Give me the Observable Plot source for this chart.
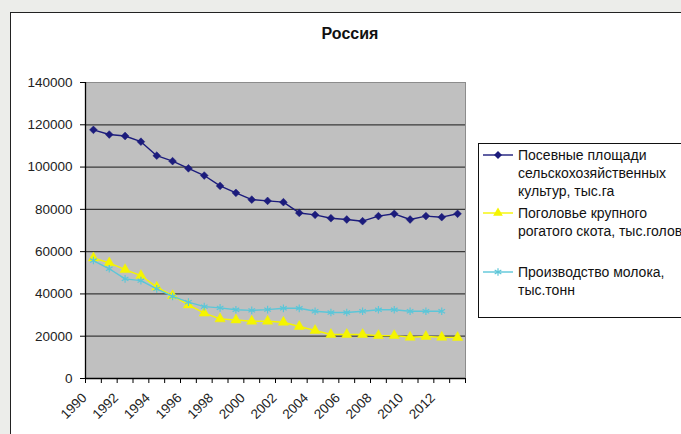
<!DOCTYPE html>
<html><head><meta charset="utf-8">
<script src="https://cdn.jsdelivr.net/npm/d3@7"></script>
<script src="https://cdn.jsdelivr.net/npm/@observablehq/plot@0.6"></script>
<style>
body{margin:0;background:#ecedea;font-family:"Liberation Sans",Arial,sans-serif;}
#wrap{position:relative;width:681px;height:434px;overflow:hidden;}
#card{position:absolute;left:10px;top:12px;width:700px;height:450px;background:#fff;border:1px solid #222;box-sizing:border-box;}
#chart{position:absolute;left:0;top:0;}
#title{position:absolute;left:250px;width:200px;top:25px;text-align:center;font-weight:bold;font-size:16px;color:#111;}
#legend{position:absolute;left:478px;top:143px;width:240px;height:175px;border:1px solid #111;box-sizing:border-box;background:#fff;}
.entry{position:absolute;left:4px;display:flex;align-items:flex-start;font-size:14px;line-height:18px;color:#111;white-space:nowrap;}
.entry svg{flex:none;margin-right:5px;}
</style></head><body>
<div id="wrap"><div id="card"></div><div id="chart"></div><div id="title">Россия</div><div id="legend"></div></div>
<script>
const years = [1990,1991,1992,1993,1994,1995,1996,1997,1998,1999,2000,2001,2002,2003,2004,2005,2006,2007,2008,2009,2010,2011,2012,2013];
const sownArea = [117600,115400,114700,112000,105400,102800,99400,96000,91100,87800,84600,84000,83400,78300,77400,75800,75200,74400,76800,77900,75200,76800,76300,77900];
const cattle = [57000,54700,51500,48700,43200,39200,34800,30900,28200,27700,27100,27100,26600,24600,22700,20800,20800,20800,20300,20300,19500,19900,19500,19400];
const milk = [55800,51900,47100,46300,42400,38800,36100,34000,33400,32500,32200,32600,33200,33200,31800,31200,31200,31800,32500,32500,31800,31800,31800];
const yTicks = [0,20000,40000,60000,80000,100000,120000,140000];
const labelYears = [1990,1992,1994,1996,1998,2000,2002,2004,2006,2008,2010,2012];
const seriesNames = ["Посевные площади\nсельскохозяйственных\nкультур, тыс.га","Поголовье крупного\nрогатого скота, тыс.голов","Производство молока,\nтыс.тонн"];
const colors = ["#1c1c7c","#f5f500","#5cc6d8"];
const symbols = ["diamond2","triangle","asterisk"];

const table = (vals) => vals.map((v,i) => ({year: years[i], v}));
const boundaries = years.map(y => y - 0.5).concat([years[years.length-1] + 0.5]);
const xDomain = [boundaries[0], boundaries[boundaries.length-1]];

const lineMarks = [sownArea, cattle, milk].flatMap((vals, k) => [
  Plot.line(table(vals), {x:"year", y:"v", stroke: colors[k], strokeWidth: 1.4}),
  Plot.dot(table(vals), k === 2
    ? {x:"year", y:"v", symbol: symbols[k], r: 3.6, stroke: colors[k], strokeWidth: 1.2, fill: "none"}
    : {x:"year", y:"v", symbol: symbols[k], r: k === 0 ? 3.5 : 3.8, fill: colors[k], stroke: colors[k], strokeWidth: 0.5})
]);

const chart = Plot.plot({
  width: 681, height: 434,
  marginLeft: 85, marginRight: 216, marginTop: 82, marginBottom: 56,
  style: {fontFamily: "'Liberation Sans', Arial, sans-serif", fontSize: "13.5px", background: "transparent", color: "#222", overflow: "visible"},
  x: {type: "linear", domain: xDomain, axis: null},
  y: {domain: [yTicks[0], yTicks[yTicks.length-1]], axis: null},
  marks: [
    Plot.frame({fill: "#c0c0c0", stroke: "#8c8c8c"}),
    Plot.ruleY(yTicks.slice(1, -1), {stroke: "#3a3a3a", strokeWidth: 1.3}),
    Plot.ruleX([xDomain[0]], {stroke: "#000", strokeWidth: 1.3}),
    Plot.ruleY([yTicks[0]], {stroke: "#000", strokeWidth: 1.3}),
    Plot.axisY({ticks: yTicks, tickSize: 5, tickPadding: 8, tickFormat: d => String(d), label: null, stroke: "#000"}),
    Plot.axisX({ticks: boundaries, tickSize: 5, tickFormat: () => "", label: null, stroke: "#000"}),
    Plot.axisX({ticks: labelYears, tickSize: 0, tickPadding: 17, tickRotate: -45, dx: -9, tickFormat: d => String(d), label: null}),
    ...lineMarks
  ]
});
document.getElementById("chart").appendChild(chart);

// legend
const legend = document.getElementById("legend");
const tops = [2, 60, 119];
seriesNames.forEach((name, k) => {
  const e = document.createElement("div");
  e.className = "entry";
  e.style.top = tops[k] + "px";
  const s = d3.create("svg").attr("width", 30).attr("height", 18);
  s.append("line").attr("x1", 0).attr("x2", 30).attr("y1", 9).attr("y2", 9).attr("stroke", colors[k]).attr("stroke-width", 1.4);
  const sym = {diamond2: d3.symbolDiamond2, triangle: d3.symbolTriangle, asterisk: d3.symbolAsterisk}[symbols[k]];
  const p = s.append("path").attr("transform", "translate(15,9)").attr("d", d3.symbol(sym, Math.PI * 3.6 * 3.6)());
  if (k === 2) p.attr("fill", "none").attr("stroke", colors[k]).attr("stroke-width", 1.2);
  else p.attr("fill", colors[k]);
  e.appendChild(s.node());
  const t = document.createElement("div");
  t.innerHTML = name.split("\n").join("<br>");
  e.appendChild(t);
  legend.appendChild(e);
});
</script>
</body></html>
